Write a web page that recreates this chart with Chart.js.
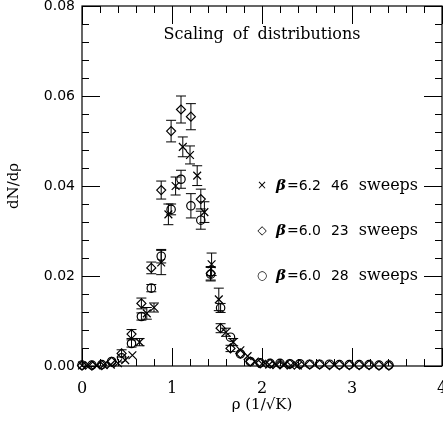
<!DOCTYPE html>
<html>
<head>
<meta charset="utf-8">
<script src="https://cdn.jsdelivr.net/npm/chart.js@4.4.1/dist/chart.umd.min.js"></script>
<style>
  html, body { margin: 0; padding: 0; background: #fff; }
</style>
</head>
<body>
<canvas id="chart" width="443" height="424"></canvas>
<script>
// beta=6.2, 46 sweeps (crosses)
const rhoB62 = [0.00, 0.08, 0.16, 0.24, 0.32, 0.40, 0.48, 0.56, 0.64, 0.72, 0.80, 0.88, 0.96, 1.04, 1.12, 1.20,
                1.28, 1.36, 1.44, 1.52, 1.60, 1.68, 1.76, 1.84, 1.92, 2.00, 2.08, 2.16, 2.24, 2.32, 2.40];
const dndrB62 = [0.0001, 0.0001, 0.0001, 0.0002, 0.0003, 0.0006, 0.0013, 0.0024, 0.0053, 0.0117, 0.0130, 0.0230,
                 0.0337, 0.0400, 0.0487, 0.0469, 0.0423, 0.0342, 0.0226, 0.0148, 0.0075, 0.0053, 0.0035, 0.0022,
                 0.0010, 0.0005, 0.0003, 0.0002, 0.0002, 0.0001, 0.0001];
const errB62 = [0.0001, 0.0001, 0.0001, 0.0001, 0.0002, 0.0003, 0.0005, 0.0006, 0.0008, 0.0013, 0.0010, 0.0027,
                0.0023, 0.0020, 0.0022, 0.0020, 0.0022, 0.0023, 0.0025, 0.0025, 0.0009, 0.0008, 0.0006, 0.0005,
                0.0003, 0.0002, 0.0002, 0.0001, 0.0001, 0.0001, 0.0001];

// beta=6.0 bins (both runs)
const rhoB60 = [0.00, 0.11, 0.22, 0.33, 0.44, 0.55, 0.66, 0.77, 0.88, 0.99, 1.10, 1.21, 1.32, 1.43, 1.54, 1.65,
                1.76, 1.87, 1.98, 2.09, 2.20, 2.31, 2.42, 2.53, 2.64, 2.75, 2.86, 2.97, 3.08, 3.19, 3.30, 3.41];
// 23 sweeps (diamonds)
const dndrB60a = [0.0001, 0.0001, 0.0002, 0.0009, 0.0028, 0.0071, 0.0139, 0.0218, 0.0391, 0.0522, 0.0570, 0.0554,
                  0.0371, 0.0206, 0.0084, 0.0039, 0.0028, 0.0010, 0.0006, 0.0005, 0.0004, 0.0004, 0.0003, 0.0003,
                  0.0003, 0.0002, 0.0002, 0.0002, 0.0002, 0.0002, 0.0001, 0.0001];
const errB60a = [0.0001, 0.0001, 0.0001, 0.0004, 0.0008, 0.0010, 0.0012, 0.0013, 0.0020, 0.0024, 0.0030, 0.0029,
                 0.0022, 0.0015, 0.0010, 0.0007, 0.0005, 0.0003, 0.0002, 0.0002, 0.0002, 0.0002, 0.0001, 0.0001,
                 0.0001, 0.0001, 0.0001, 0.0001, 0.0001, 0.0001, 0.0001, 0.0001];
// 28 sweeps (circles)
const dndrB60b = [0.0002, 0.0002, 0.0003, 0.0010, 0.0018, 0.0050, 0.0110, 0.0173, 0.0244, 0.0348, 0.0415, 0.0356,
                  0.0324, 0.0204, 0.0129, 0.0064, 0.0027, 0.0010, 0.0007, 0.0006, 0.0006, 0.0005, 0.0005, 0.0004,
                  0.0004, 0.0004, 0.0003, 0.0003, 0.0003, 0.0003, 0.0002, 0.0002];
const errB60b = [0.0001, 0.0001, 0.0001, 0.0003, 0.0005, 0.0008, 0.0008, 0.0008, 0.0015, 0.0012, 0.0020, 0.0027,
                 0.0020, 0.0015, 0.0010, 0.0006, 0.0004, 0.0003, 0.0002, 0.0002, 0.0002, 0.0002, 0.0001, 0.0001,
                 0.0001, 0.0001, 0.0001, 0.0001, 0.0001, 0.0001, 0.0001, 0.0001];

const xTicks = [0, 1, 2, 3, 4];
const yTicks = [0.00, 0.02, 0.04, 0.06, 0.08];
const chartTitle = 'Scaling of distributions';
const legendRows = [
  { mark: '\u00d7', beta: '6.2', sweeps: '46' },
  { mark: '\u25c7', beta: '6.0', sweeps: '23' },
  { mark: '\u25cb', beta: '6.0', sweeps: '28' }
];

function toPoints(xs, ys) {
  return xs.map((x, i) => ({ x: x, y: ys[i] }));
}

// error bars drawn through the scales
const errorBars = {
  id: 'errorBars',
  afterDatasetsDraw(chart) {
    const { ctx, scales: { x, y } } = chart;
    ctx.save();
    ctx.strokeStyle = '#000';
    ctx.lineWidth = 1;
    chart.data.datasets.forEach(ds => {
      ds.data.forEach((p, i) => {
        const e = ds.errors[i];
        const px = x.getPixelForValue(p.x);
        const yt = y.getPixelForValue(p.y + e);
        const yb = y.getPixelForValue(p.y - e);
        if (yb - yt < 6) return;
        ctx.beginPath();
        ctx.moveTo(px, yt); ctx.lineTo(px, yb);
        ctx.moveTo(px - 5, yt); ctx.lineTo(px + 5, yt);
        ctx.moveTo(px - 5, yb); ctx.lineTo(px + 5, yb);
        ctx.stroke();
      });
    });
    ctx.restore();
  }
};

// frame, inward ticks, title and legend
const frame = {
  id: 'frame',
  afterDraw(chart) {
    const { ctx, chartArea: a, scales: { x, y } } = chart;
    ctx.save();
    ctx.strokeStyle = '#000';
    ctx.lineWidth = 1.2;
    ctx.strokeRect(a.left, a.top, a.right - a.left, a.bottom - a.top);

    ctx.lineWidth = 1;
    ctx.beginPath();
    for (let v = 0; v <= 4.001; v += 0.2) {
      const px = Math.round(x.getPixelForValue(v)) + 0.5;
      const major = Math.abs(v - Math.round(v)) < 1e-6;
      const len = major ? 18 : 7;
      ctx.moveTo(px, a.bottom); ctx.lineTo(px, a.bottom - len);
      ctx.moveTo(px, a.top); ctx.lineTo(px, a.top + len);
    }
    for (let k = 0; k <= 20; k++) {
      const v = k * 0.004;
      const py = Math.round(y.getPixelForValue(v)) + 0.5;
      const len = k % 5 === 0 ? 18 : 7;
      ctx.moveTo(a.left, py); ctx.lineTo(a.left + len, py);
      ctx.moveTo(a.right, py); ctx.lineTo(a.right - len, py);
    }
    ctx.stroke();

    ctx.fillStyle = '#000';
    ctx.textBaseline = 'middle';
    ctx.textAlign = 'center';
    ctx.font = '16px "DejaVu Serif"';
    if ('wordSpacing' in ctx) ctx.wordSpacing = '4px';
    ctx.fillText(chartTitle, (a.left + a.right) / 2, 35);
    if ('wordSpacing' in ctx) ctx.wordSpacing = '0px';

    legendRows.forEach((r, i) => {
      const ly = y.getPixelForValue(0.04 - i * 0.01);
      ctx.font = '12px "DejaVu Sans"';
      ctx.textAlign = 'center';
      ctx.fillText(r.mark, 262, ly);
      ctx.textAlign = 'left';
      let cx = 276;
      ctx.font = 'italic bold 15px "DejaVu Serif"';
      ctx.fillText('\u03b2', cx, ly);
      cx += ctx.measureText('\u03b2').width + 1;
      ctx.font = '14px "DejaVu Sans"';
      ctx.fillText('=' + r.beta, cx, ly);
      cx += ctx.measureText('=' + r.beta).width + 10;
      ctx.fillText(r.sweeps, cx, ly);
      cx += ctx.measureText(r.sweeps).width + 10;
      ctx.font = '16px "DejaVu Serif"';
      ctx.fillText('sweeps', cx, ly);
    });
    ctx.restore();
  }
};

function noPad(s) {
  s.paddingLeft = 0; s.paddingRight = 0; s.paddingTop = 0; s.paddingBottom = 0;
}

const common = {
  showLine: false,
  borderColor: '#000',
  backgroundColor: 'rgba(0,0,0,0)',
  borderWidth: 1.2,
  clip: false
};

new Chart(document.getElementById('chart'), {
  type: 'scatter',
  data: {
    datasets: [
      { ...common, label: '\u03b2=6.2 46 sweeps', data: toPoints(rhoB62, dndrB62), errors: errB62,
        pointStyle: 'crossRot', pointRadius: 5.5 },
      { ...common, label: '\u03b2=6.0 23 sweeps', data: toPoints(rhoB60, dndrB60a), errors: errB60a,
        pointStyle: 'rectRot', pointRadius: 4.5 },
      { ...common, label: '\u03b2=6.0 28 sweeps', data: toPoints(rhoB60, dndrB60b), errors: errB60b,
        pointStyle: 'circle', pointRadius: 4.2 }
    ]
  },
  options: {
    responsive: false,
    animation: false,
    events: [],
    layout: { autoPadding: false, padding: { top: 6, right: 1, left: 0, bottom: 0 } },
    plugins: { legend: { display: false }, tooltip: { enabled: false } },
    scales: {
      x: {
        type: 'linear', min: 0, max: 4,
        afterBuildTicks: s => { s.ticks = xTicks.map(v => ({ value: v })); },
        afterFit: s => { s.height = 58; noPad(s); },
        grid: { display: false, drawTicks: false },
        border: { display: false },
        ticks: { color: '#000', padding: 13, maxRotation: 0, font: { family: 'DejaVu Serif', size: 16 } },
        title: { display: true, text: '\u03c1 (1/\u221aK)', color: '#000',
                 font: { family: 'DejaVu Serif', size: 15 }, padding: { top: 0, bottom: 10 } }
      },
      y: {
        type: 'linear', min: 0, max: 0.08,
        afterBuildTicks: s => { s.ticks = yTicks.map(v => ({ value: v })); },
        afterFit: s => { s.width = 82; noPad(s); },
        grid: { display: false, drawTicks: false },
        border: { display: false },
        ticks: { color: '#000', padding: 7, font: { family: 'DejaVu Sans', size: 14 },
                 callback: v => v.toFixed(2) },
        title: { display: true, text: 'dN/d\u03c1', color: '#000',
                 font: { family: 'DejaVu Serif', size: 15 }, padding: { top: 5, bottom: 0 } }
      }
    }
  },
  plugins: [errorBars, frame]
});
</script>
</body>
</html>
